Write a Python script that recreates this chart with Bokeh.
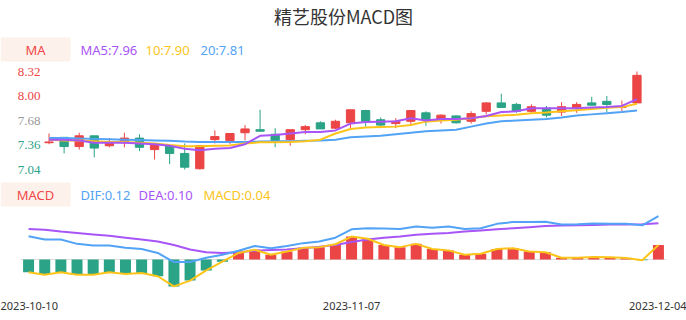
from bokeh.plotting import figure
from bokeh.models import (ColumnDataSource, Range1d, Label, LabelSet, BoxAnnotation,
                          FixedTicker, LinearAxis)
from bokeh.core.properties import field
from bokeh.embed import file_html
from bokeh.resources import INLINE

# ---------------- data ----------------
dates = ["2023-10-10", "2023-10-11", "2023-10-12", "2023-10-13", "2023-10-16", "2023-10-17",
         "2023-10-18", "2023-10-19", "2023-10-20", "2023-10-23", "2023-10-24", "2023-10-25",
         "2023-10-26", "2023-10-27", "2023-10-30", "2023-10-31", "2023-11-01", "2023-11-02",
         "2023-11-03", "2023-11-06", "2023-11-07", "2023-11-08", "2023-11-09", "2023-11-10",
         "2023-11-13", "2023-11-14", "2023-11-15", "2023-11-16", "2023-11-17", "2023-11-20",
         "2023-11-21", "2023-11-22", "2023-11-23", "2023-11-24", "2023-11-27", "2023-11-28",
         "2023-11-29", "2023-11-30", "2023-12-01", "2023-12-04"]

open_ = [7.39, 7.46, 7.34, 7.48, 7.35, 7.39, 7.45, 7.30, 7.35, 7.25,
         7.05, 7.43, 7.42, 7.52, 7.56, 7.50, 7.43, 7.56, 7.65, 7.58,
         7.65, 7.81, 7.69, 7.64, 7.67, 7.78, 7.70, 7.74, 7.67, 7.80,
         7.91, 7.89, 7.80, 7.84, 7.79, 7.85, 7.91, 7.93, 7.85, 7.91]
high = [7.51, 7.46, 7.52, 7.48, 7.45, 7.52, 7.50, 7.38, 7.37, 7.38,
        7.36, 7.55, 7.51, 7.62, 7.82, 7.58, 7.56, 7.62, 7.67, 7.69,
        7.82, 7.82, 7.72, 7.71, 7.81, 7.80, 7.76, 7.75, 7.80, 7.92,
        8.03, 7.91, 7.89, 7.87, 7.92, 7.92, 7.99, 8.00, 7.94, 8.32]
low = [7.37, 7.25, 7.30, 7.20, 7.33, 7.33, 7.28, 7.17, 7.11, 7.04,
       7.04, 7.38, 7.37, 7.42, 7.54, 7.33, 7.35, 7.50, 7.57, 7.57,
       7.58, 7.60, 7.58, 7.58, 7.63, 7.61, 7.64, 7.64, 7.64, 7.76,
       7.85, 7.78, 7.78, 7.72, 7.74, 7.78, 7.88, 7.79, 7.80, 7.91]
close = [7.40, 7.34, 7.48, 7.32, 7.40, 7.45, 7.33, 7.38, 7.25, 7.07,
         7.35, 7.47, 7.51, 7.57, 7.54, 7.42, 7.56, 7.60, 7.57, 7.67,
         7.82, 7.67, 7.62, 7.67, 7.81, 7.69, 7.75, 7.65, 7.77, 7.91,
         7.85, 7.80, 7.86, 7.75, 7.86, 7.89, 7.88, 7.89, 7.86, 8.27]

ma5 = [7.43, 7.43, 7.42, 7.39, 7.39, 7.39, 7.38, 7.37, 7.35, 7.31,
       7.29, 7.31, 7.32, 7.37, 7.48, 7.49, 7.51, 7.53, 7.53, 7.55,
       7.64, 7.66, 7.665, 7.67, 7.71, 7.68, 7.70, 7.70, 7.71, 7.74,
       7.79, 7.80, 7.84, 7.84, 7.84, 7.84, 7.85, 7.855, 7.87, 7.96]
ma10 = [7.43, 7.42, 7.42, 7.41, 7.40, 7.40, 7.39, 7.38, 7.36, 7.345,
        7.345, 7.35, 7.355, 7.38, 7.395, 7.395, 7.40, 7.41, 7.43, 7.51,
        7.57, 7.59, 7.595, 7.60, 7.62, 7.665, 7.68, 7.69, 7.71, 7.735,
        7.745, 7.755, 7.775, 7.785, 7.80, 7.815, 7.83, 7.845, 7.855, 7.90]
ma20 = [7.45, 7.45, 7.445, 7.44, 7.435, 7.43, 7.425, 7.42, 7.415, 7.405,
        7.40, 7.40, 7.40, 7.40, 7.405, 7.41, 7.41, 7.415, 7.42, 7.43,
        7.46, 7.47, 7.48, 7.50, 7.52, 7.54, 7.55, 7.56, 7.60, 7.64,
        7.67, 7.68, 7.69, 7.70, 7.72, 7.745, 7.76, 7.775, 7.79, 7.81]

dif = [0.064, 0.055, 0.055, 0.043, 0.0385, 0.0385, 0.032, 0.029, 0.018, -0.007,
       -0.007, 0.0046, 0.013, 0.024, 0.037, 0.031, 0.037, 0.045, 0.0495, 0.060,
       0.083, 0.086, 0.085, 0.084, 0.091, 0.087, 0.091, 0.084, 0.086, 0.098,
       0.103, 0.103, 0.104, 0.096, 0.097, 0.099, 0.098, 0.098, 0.094, 0.119]
dea = [0.084, 0.082, 0.077, 0.073, 0.069, 0.065, 0.060, 0.055, 0.0495, 0.040,
       0.0275, 0.020, 0.018, 0.020, 0.024, 0.026, 0.0275, 0.031, 0.035, 0.040,
       0.048, 0.055, 0.060, 0.063, 0.068, 0.071, 0.073, 0.077, 0.080, 0.083,
       0.086, 0.089, 0.092, 0.0935, 0.094, 0.095, 0.096, 0.096, 0.097, 0.100]
macd = [-0.035, -0.042, -0.035, -0.042, -0.042, -0.035, -0.040, -0.037, -0.046, -0.074,
        -0.058, -0.030, -0.006, 0.018, 0.027, 0.013, 0.022, 0.032, 0.034, 0.042,
        0.063, 0.057, 0.040, 0.034, 0.043, 0.029, 0.025, 0.013, 0.016, 0.029,
        0.031, 0.022, 0.020, 0.005, 0.005, 0.007, 0.006, 0.004, -0.002, 0.040]

price_ticks = [7.04, 7.36, 7.68, 8.00, 8.32]
price_tick_labels = ["7.04", "7.36", "7.68", "8.00", "8.32"]
date_tick_idx = [0, 20, 39]
title_text = "精艺股份MACD图"

# ---------------- styles / layout ----------------
RED = "#ec4545"
GREEN = "#2aa386"
PURPLE = "#a855f7"
YELLOW = "#fcc419"
BLUE = "#52a3f5"
GRAY = "#999999"
LABEL_RED = "#f04848"
BOX_FILL = "#fdf1ec"
FONT = "Noto Sans"
W, H = 686, 320
AXIS_H = 28                 # space under the frame for the date axis
FH = H - AXIS_H             # frame height (frame spans whole width)

n = len(close)
xs = list(range(n))


def make_range(lo_val, hi_val, lo_px, hi_px, total_px, flip=False):
    """Range1d so that lo_val..hi_val occupy pixels lo_px..hi_px of a 0..total_px frame."""
    per_px = (hi_val - lo_val) / (hi_px - lo_px)
    if not flip:
        return Range1d(lo_val - lo_px * per_px, hi_val + (total_px - hi_px) * per_px)
    return Range1d(lo_val - (total_px - hi_px) * per_px, hi_val + lo_px * per_px)


# candle panel
cx = make_range(-0.5, n - 0.5, 41, 644, W)
py = make_range(min(low), max(high), 71, 169, FH, flip=True)
# macd panel
mx = make_range(-0.5, n - 0.5, 20, 666, W)
my = make_range(-0.08525, 0.13475, 210, 290, FH, flip=True)

p = figure(width=W, height=H, x_range=cx, y_range=py, x_axis_type=None, y_axis_type=None,
           toolbar_location=None, output_backend="svg", min_border_left=0,
           min_border_right=0, min_border_top=0, min_border_bottom=AXIS_H,
           outline_line_color=None, background_fill_color="white",
           border_fill_color="white")
p.title.visible = False
p.extra_x_ranges = {"mx": mx}
p.extra_y_ranges = {"my": my}


def px_to(sx, sy, xr, yr):
    x = xr.start + sx / W * (xr.end - xr.start)
    y = yr.end - sy / FH * (yr.end - yr.start)
    return x, y


# ---- candles ----
ccol = [RED if c >= o else GREEN for o, c in zip(open_, close)]
src = ColumnDataSource(dict(x=xs, high=high, low=low,
                            top=[max(o, c) for o, c in zip(open_, close)],
                            bottom=[min(o, c) for o, c in zip(open_, close)],
                            color=ccol))
p.segment(x0="x", y0="high", x1="x", y1="low", line_color="color", line_width=1, source=src)
p.vbar(x="x", width=0.55, top="top", bottom="bottom", fill_color="color",
       line_color="color", line_width=1, source=src)

p.line(xs, ma20, line_color=BLUE, line_width=2)
p.line(xs, ma10, line_color=YELLOW, line_width=2)
p.line(xs, ma5, line_color=PURPLE, line_width=2)

tick_colors = [GREEN, GREEN, GRAY, RED, RED]
ysrc = ColumnDataSource(dict(x=[-0.5] * len(price_ticks), y=price_ticks,
                             text=price_tick_labels, color=tick_colors))
p.add_layout(LabelSet(x="x", y="y", text="text", text_color=field("color"), source=ysrc,
                      text_align="right", text_baseline="middle", x_offset=-1,
                      text_font_size="13px", text_font=FONT))

tx, ty = px_to(343, 15, cx, py)
p.add_layout(Label(x=tx, y=ty, text=title_text, text_align="center", text_baseline="middle",
                   text_font_size="18px", text_font="Noto Sans CJK SC", text_color="#333333"))

l, t = px_to(0, 37, cx, py)
r, b = px_to(70, 61, cx, py)
p.add_layout(BoxAnnotation(left=l, right=r, bottom=b, top=t, fill_color=BOX_FILL,
                           fill_alpha=1, line_color=None))
lx, ly = px_to(35, 49, cx, py)
p.add_layout(Label(x=lx, y=ly, text="MA", text_align="center", text_baseline="middle",
                   text_font_size="13px", text_font=FONT, text_color=LABEL_RED))
for sx, txt, col in [(80, "MA5:%.2f" % ma5[-1], PURPLE), (145, "10:%.2f" % ma10[-1], YELLOW),
                     (200, "20:%.2f" % ma20[-1], BLUE)]:
    lx, ly = px_to(sx, 49, cx, py)
    p.add_layout(Label(x=lx, y=ly, text=txt, text_align="left", text_baseline="middle",
                       text_font_size="13px", text_font=FONT, text_color=col))

# ---- MACD ----
p.segment(x0=[-0.5], y0=[0], x1=[n - 0.5], y1=[0], line_color="#dddddd", line_width=1,
          x_range_name="mx", y_range_name="my")
mcol = [RED if v >= 0 else GREEN for v in macd]
msrc = ColumnDataSource(dict(x=xs, macd=macd, color=mcol))
p.vbar(x="x", width=0.68, top="macd", bottom=0, fill_color="color", line_color=None,
       source=msrc, x_range_name="mx", y_range_name="my")
p.line(xs, dea, line_color=PURPLE, line_width=2, x_range_name="mx", y_range_name="my")
p.line(xs, dif, line_color=BLUE, line_width=2, x_range_name="mx", y_range_name="my")
p.line(xs, macd, line_color=YELLOW, line_width=2, x_range_name="mx", y_range_name="my")

l, t = px_to(0, 182, mx, my)
r, b = px_to(70, 206, mx, my)
p.add_layout(BoxAnnotation(left=l, right=r, bottom=b, top=t, fill_color=BOX_FILL,
                           fill_alpha=1, line_color=None, x_range_name="mx",
                           y_range_name="my"))
lx, ly = px_to(35, 194, mx, my)
p.add_layout(Label(x=lx, y=ly, text="MACD", text_align="center", text_baseline="middle",
                   text_font_size="13px", text_font=FONT, text_color=LABEL_RED,
                   x_range_name="mx", y_range_name="my"))
for sx, txt, col in [(80, "DIF:%.2f" % dif[-1], BLUE), (138, "DEA:%.2f" % dea[-1], PURPLE),
                     (203, "MACD:%.2f" % macd[-1], YELLOW)]:
    lx, ly = px_to(sx, 194, mx, my)
    p.add_layout(Label(x=lx, y=ly, text=txt, text_align="left", text_baseline="middle",
                       text_font_size="13px", text_font=FONT, text_color=col,
                       x_range_name="mx", y_range_name="my"))

xaxis = LinearAxis(x_range_name="mx", ticker=FixedTicker(ticks=date_tick_idx),
                   major_label_overrides={i: dates[i] for i in date_tick_idx},
                   axis_line_color=None, major_tick_line_color=None,
                   minor_tick_line_color=None, major_label_standoff=3,
                   major_label_text_font_size="11px", major_label_text_font=FONT,
                   major_label_text_color="#333333")
p.add_layout(xaxis, "below")

open("out.html", "w").write(file_html(p, INLINE))
